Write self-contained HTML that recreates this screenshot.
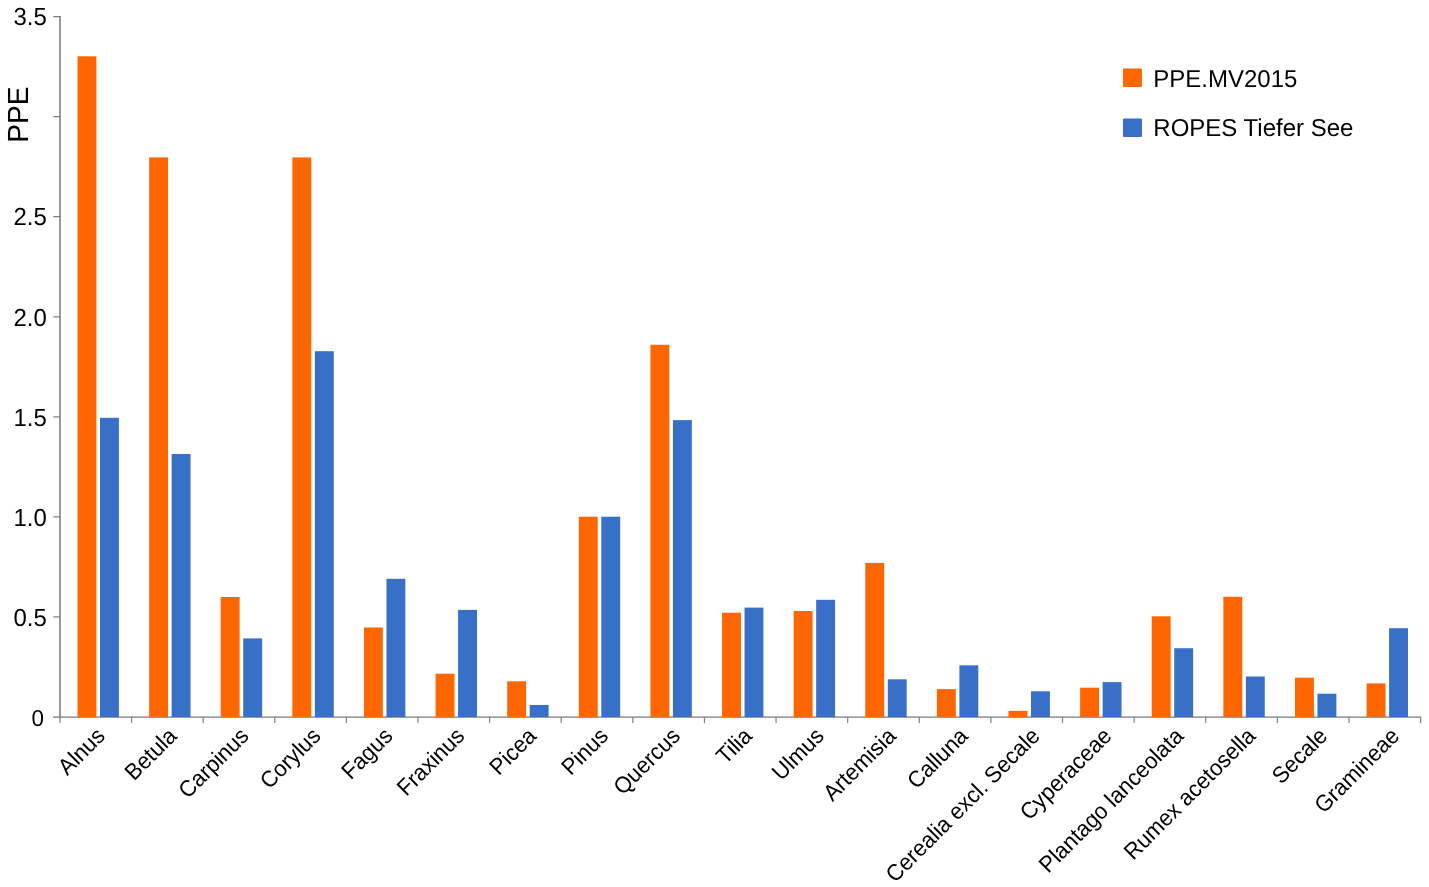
<!DOCTYPE html>
<html lang="en"><head><meta charset="utf-8"><title>PPE chart</title>
<style>
html,body{margin:0;padding:0;background:#fff;}
body{width:1429px;height:887px;overflow:hidden;}
svg{display:block;}
text{font-family:"Liberation Sans",sans-serif;fill:#000;text-rendering:geometricPrecision;}
.yl{font-size:24px;text-anchor:end;}
.xl{font-size:22px;text-anchor:end;}
.lg{font-size:24px;}
</style></head><body>
<svg width="1429" height="887" viewBox="0 0 1429 887">
<rect width="1429" height="887" fill="#fff"/>
<g stroke="#808080" fill="none">
<path d="M60 16v701.7" stroke-width="1.6"/>
<path d="M53.1 717.2H1421.2" stroke-width="1.2" stroke="#787878"/>
<path d="M53.3 16.60H60M53.3 116.66H60M53.3 216.72H60M53.3 316.78H60M53.3 416.84H60M53.3 516.90H60M53.3 616.96H60" stroke-width="1.2"/>
<path d="M59.90 717V722.9M131.52 717V722.9M203.13 717V722.9M274.75 717V722.9M346.36 717V722.9M417.98 717V722.9M489.60 717V722.9M561.21 717V722.9M632.83 717V722.9M704.44 717V722.9M776.06 717V722.9M847.68 717V722.9M919.29 717V722.9M990.91 717V722.9M1062.52 717V722.9M1134.14 717V722.9M1205.76 717V722.9M1277.37 717V722.9M1348.99 717V722.9M1420.60 717V722.9" stroke-width="1.2"/>
</g>
<g fill="#ff6600">
<rect x="77.50" y="56.3" width="18.9" height="660.7"/>
<rect x="149.12" y="157.4" width="18.9" height="559.6"/>
<rect x="220.73" y="597.0" width="18.9" height="120.0"/>
<rect x="292.35" y="157.4" width="18.9" height="559.6"/>
<rect x="363.96" y="627.5" width="18.9" height="89.5"/>
<rect x="435.58" y="673.7" width="18.9" height="43.3"/>
<rect x="507.20" y="681.3" width="18.9" height="35.7"/>
<rect x="578.81" y="516.7" width="18.9" height="200.3"/>
<rect x="650.43" y="344.8" width="18.9" height="372.2"/>
<rect x="722.04" y="612.7" width="18.9" height="104.3"/>
<rect x="793.66" y="611.0" width="18.9" height="106.0"/>
<rect x="865.28" y="562.9" width="18.9" height="154.1"/>
<rect x="936.89" y="689.1" width="18.9" height="27.9"/>
<rect x="1008.51" y="710.9" width="18.9" height="6.1"/>
<rect x="1080.12" y="687.7" width="18.9" height="29.3"/>
<rect x="1151.74" y="616.3" width="18.9" height="100.7"/>
<rect x="1223.36" y="596.8" width="18.9" height="120.2"/>
<rect x="1294.97" y="677.7" width="18.9" height="39.3"/>
<rect x="1366.59" y="683.4" width="18.9" height="33.6"/>
</g><g fill="#3870c8">
<rect x="100.00" y="417.8" width="18.9" height="299.2"/>
<rect x="171.62" y="454.0" width="18.9" height="263.0"/>
<rect x="243.23" y="638.4" width="18.9" height="78.6"/>
<rect x="314.85" y="351.2" width="18.9" height="365.8"/>
<rect x="386.46" y="578.8" width="18.9" height="138.2"/>
<rect x="458.08" y="609.9" width="18.9" height="107.1"/>
<rect x="529.70" y="705.0" width="18.9" height="12.0"/>
<rect x="601.31" y="516.7" width="18.9" height="200.3"/>
<rect x="672.93" y="420.1" width="18.9" height="296.9"/>
<rect x="744.54" y="607.6" width="18.9" height="109.4"/>
<rect x="816.16" y="599.8" width="18.9" height="117.2"/>
<rect x="887.78" y="679.3" width="18.9" height="37.7"/>
<rect x="959.39" y="665.3" width="18.9" height="51.7"/>
<rect x="1031.01" y="691.3" width="18.9" height="25.7"/>
<rect x="1102.62" y="682.1" width="18.9" height="34.9"/>
<rect x="1174.24" y="648.2" width="18.9" height="68.8"/>
<rect x="1245.86" y="676.5" width="18.9" height="40.5"/>
<rect x="1317.47" y="693.7" width="18.9" height="23.3"/>
<rect x="1389.09" y="628.2" width="18.9" height="88.8"/>
</g>
<text class="yl" transform="translate(46.9 25.2) scale(1 1.03)">3.5</text>
<text class="yl" transform="translate(46.9 225.4) scale(1 1.03)">2.5</text>
<text class="yl" transform="translate(46.9 325.5) scale(1 1.03)">2.0</text>
<text class="yl" transform="translate(46.9 425.6) scale(1 1.03)">1.5</text>
<text class="yl" transform="translate(46.9 525.8) scale(1 1.03)">1.0</text>
<text class="yl" transform="translate(46.9 625.8) scale(1 1.03)">0.5</text>
<text class="yl" style="font-size:22.4px" transform="translate(43.95 725.9) scale(1 1.03)">0</text>
<text transform="translate(27.9 142.7) rotate(-90) scale(1 1.04)" font-size="28">PPE</text>
<text class="xl" transform="translate(106.29 737.3) rotate(-45) scale(1 1.04)">Alnus</text>
<text class="xl" transform="translate(178.20 737.3) rotate(-45) scale(1 1.04)">Betula</text>
<text class="xl" transform="translate(250.11 737.3) rotate(-45) scale(1 1.04)">Carpinus</text>
<text class="xl" transform="translate(322.02 737.3) rotate(-45) scale(1 1.04)">Corylus</text>
<text class="xl" transform="translate(393.93 737.3) rotate(-45) scale(1 1.04)">Fagus</text>
<text class="xl" transform="translate(465.84 737.3) rotate(-45) scale(1 1.04)">Fraxinus</text>
<text class="xl" transform="translate(537.75 737.3) rotate(-45) scale(1 1.04)">Picea</text>
<text class="xl" transform="translate(609.66 737.3) rotate(-45) scale(1 1.04)">Pinus</text>
<text class="xl" transform="translate(681.57 737.3) rotate(-45) scale(1 1.04)">Quercus</text>
<text class="xl" transform="translate(753.48 737.3) rotate(-45) scale(1 1.04)">Tilia</text>
<text class="xl" transform="translate(825.39 737.3) rotate(-45) scale(1 1.04)">Ulmus</text>
<text class="xl" transform="translate(897.30 737.3) rotate(-45) scale(1 1.04)">Artemisia</text>
<text class="xl" transform="translate(969.21 737.3) rotate(-45) scale(1 1.04)">Calluna</text>
<text class="xl" transform="translate(1041.12 737.3) rotate(-45) scale(1 1.04)">Cerealia excl. Secale</text>
<text class="xl" transform="translate(1113.03 737.3) rotate(-45) scale(1 1.04)">Cyperaceae</text>
<text class="xl" transform="translate(1184.94 737.3) rotate(-45) scale(1 1.04)">Plantago lanceolata</text>
<text class="xl" transform="translate(1256.85 737.3) rotate(-45) scale(1 1.04)">Rumex acetosella</text>
<text class="xl" transform="translate(1328.76 737.3) rotate(-45) scale(1 1.04)">Secale</text>
<text class="xl" transform="translate(1400.67 737.3) rotate(-45) scale(1 1.04)">Gramineae</text>
<rect x="1123" y="68.5" width="19" height="18.6" rx="1" fill="#ff6600"/>
<rect x="1123" y="118.4" width="19" height="18.6" rx="1" fill="#3870c8"/>
<text class="lg" transform="translate(1153.3 87.2) scale(1 1.016)">PPE.MV2015</text>
<text class="lg" transform="translate(1153.3 136.4) scale(1 1.02)">ROPES Tiefer See</text>
</svg></body></html>
